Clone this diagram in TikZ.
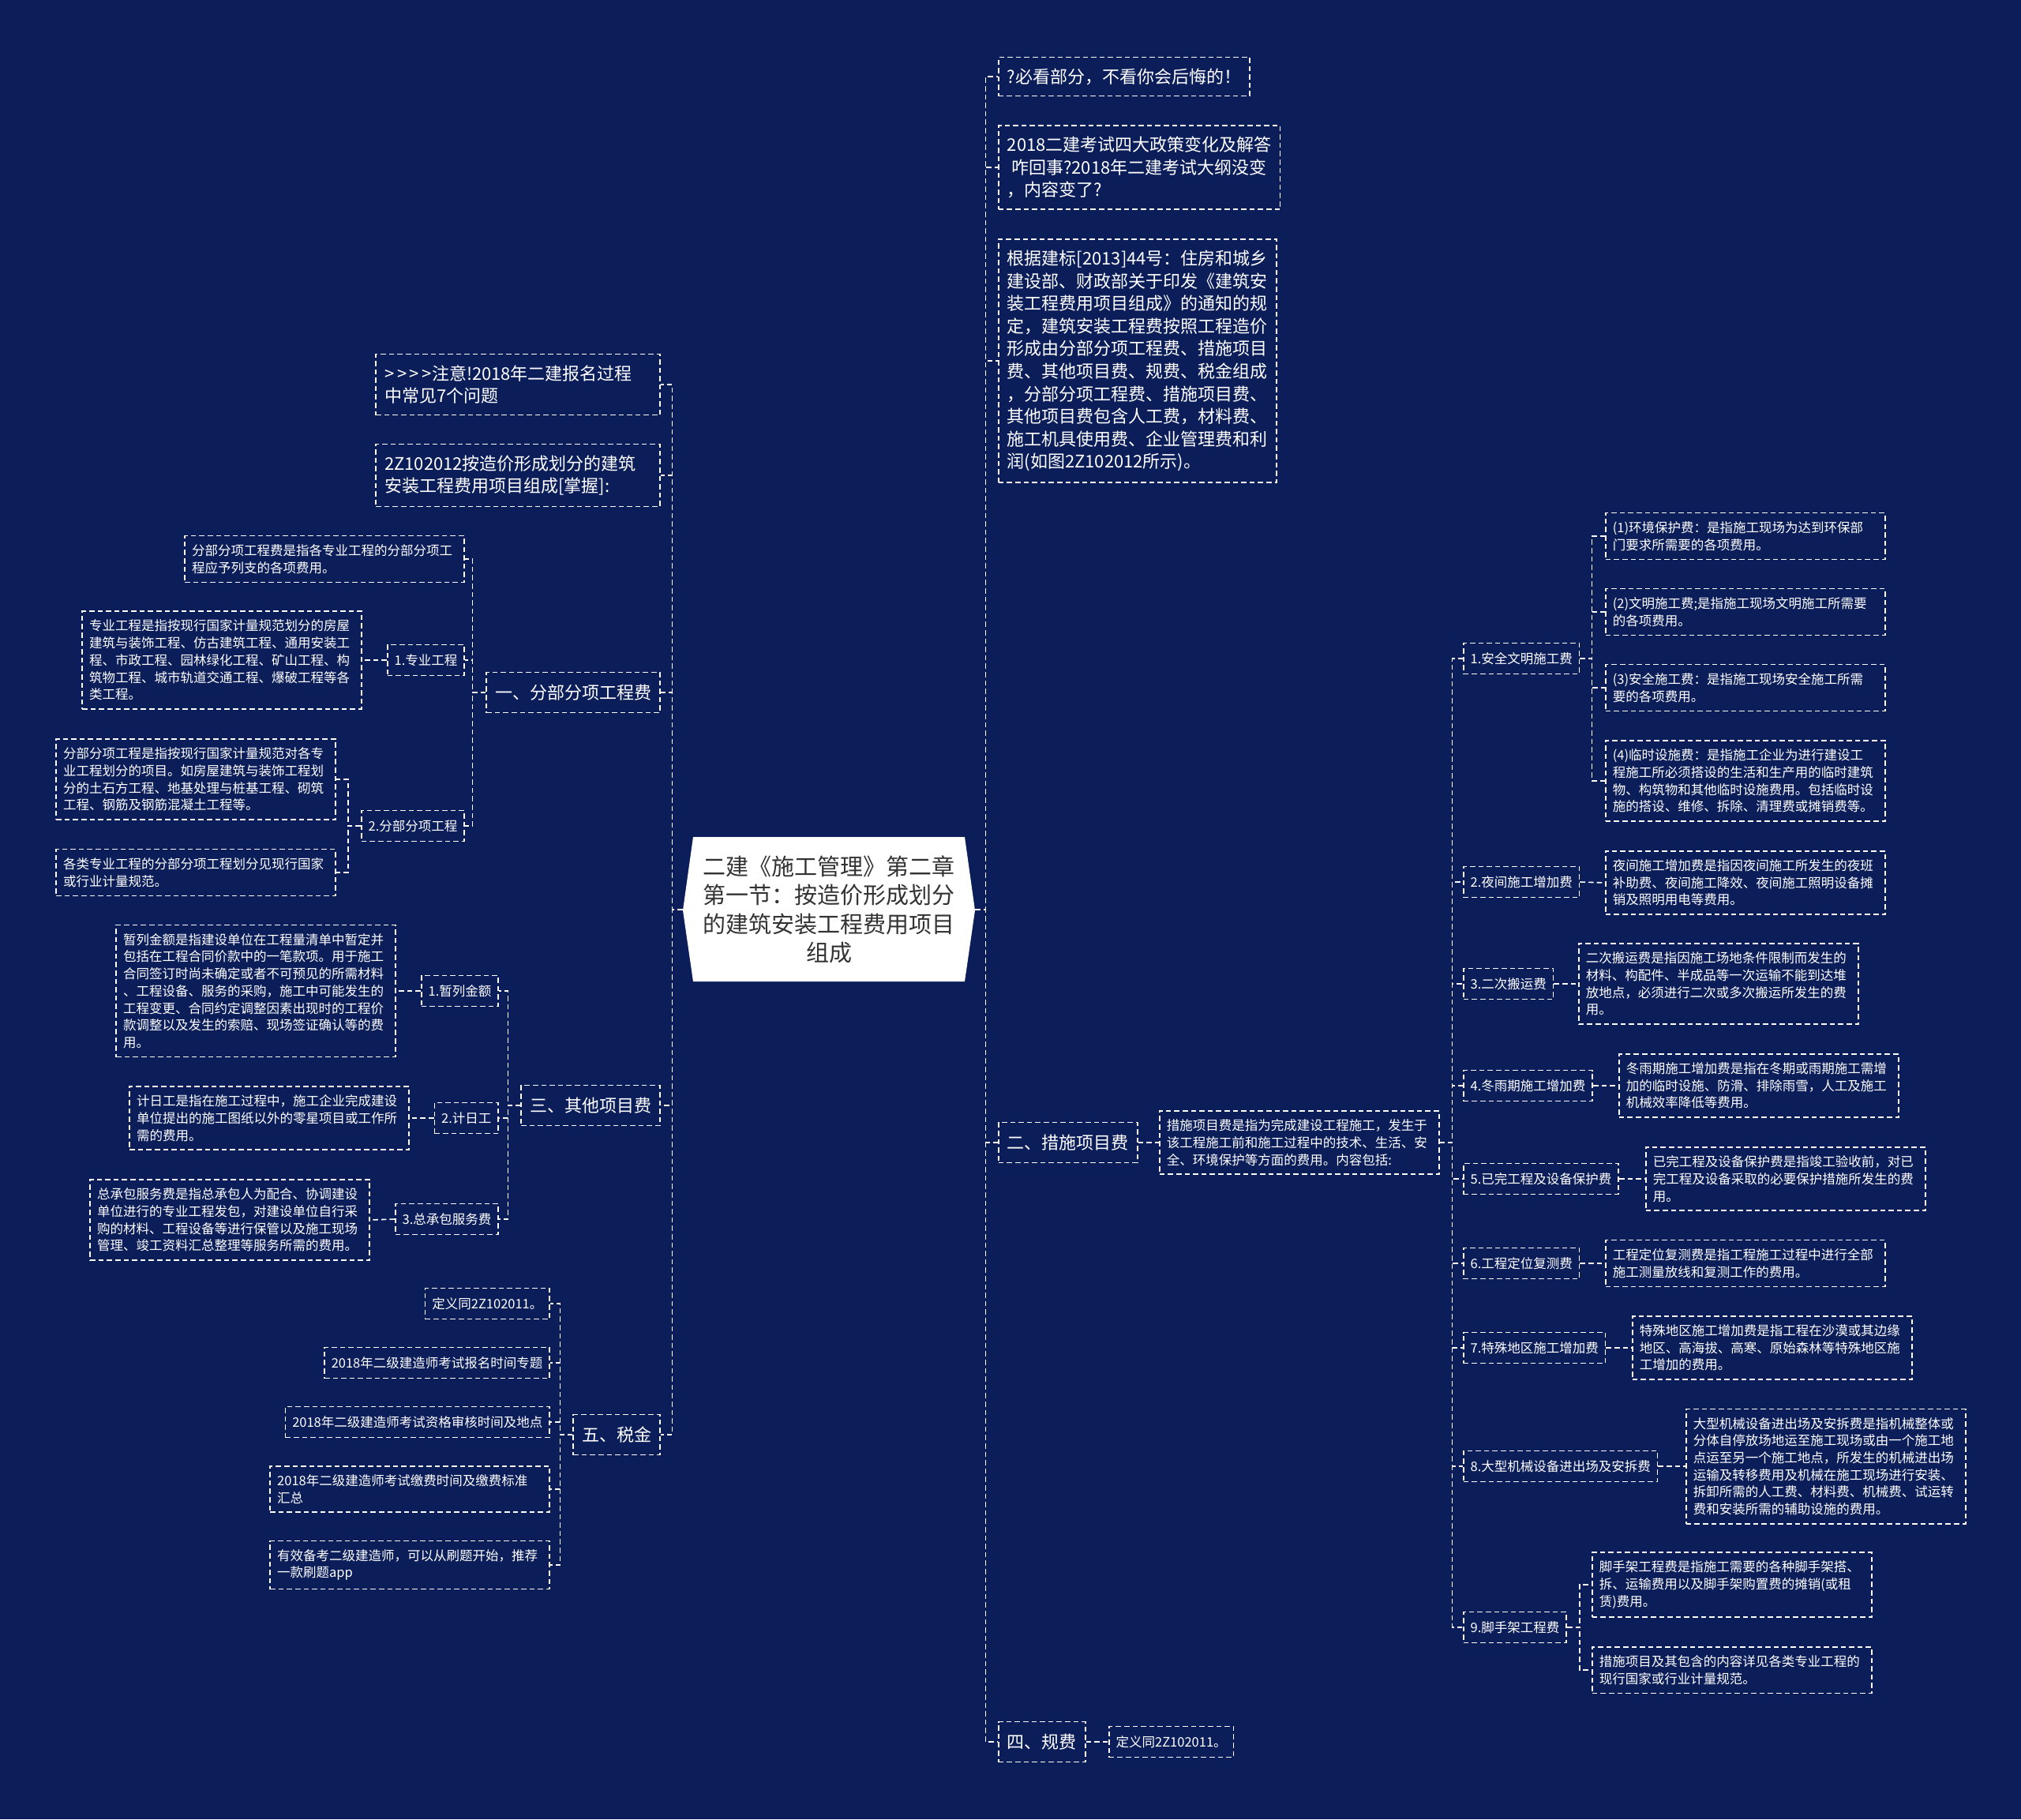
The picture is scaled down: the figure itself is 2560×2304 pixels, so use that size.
\documentclass[tikz,border=0pt]{standalone}
\usepackage{fontspec}
\newfontfamily\cjk{Noto Sans CJK SC}
\definecolor{navy}{RGB}{12,30,90}
\definecolor{rootgray}{RGB}{51,51,51}

\begin{document}
\begin{tikzpicture}[x=0.5pt,y=-0.5pt,
  link/.style={draw=white,line width=0.8pt,dash pattern=on 3.3pt off 2pt},
  dashbox/.style={draw=white,line width=0.8pt,dash pattern=on 3.3pt off 2pt,text=white},
  rootbox/.style={text=rootgray,align=center,minimum width=185pt,minimum height=91.5pt,font=\cjk\fontsize{14.5pt}{18.25pt}\selectfont},
  topicbox/.style={dashbox,minimum height=25.5pt,inner xsep=5.5pt,font=\cjk\fontsize{11pt}{13.25pt}\selectfont},
  notebox/.style={dashbox,align=left,inner xsep=5.5pt,inner ysep=7pt,font=\cjk\fontsize{11pt}{14.3pt}\selectfont},
  itembox/.style={dashbox,minimum height=19.5pt,inner xsep=4.4pt,font=\cjk\fontsize{8.25pt}{10.85pt}\selectfont},
  descbox/.style={dashbox,align=left,text width=168pt,inner xsep=4.5pt,inner ysep=5.4pt,font=\cjk\fontsize{8.25pt}{10.85pt}\selectfont}]

% Background
\fill[navy] (0,0) rectangle (2560,2304);

% Root
\fill[white] (865,1153) -- (878,1060) -- (1222,1060) -- (1235,1153) -- (1222,1243) -- (878,1243) -- cycle;
\node[rootbox] (root) at (1050,1152) {二建《施工管理》第二章\\第一节：按造价形成划分\\的建筑安装工程费用项目\\组成};

% Right branches
\node[notebox,anchor=west] (must) at (1264,97) {?必看部分，不看你会后悔的！};
\node[notebox,anchor=west] (policy) at (1264,212) {2018二建考试四大政策变化及解答\\\hspace*{0.25em}咋回事?2018年二建考试大纲没变\\，内容变了?};
\node[notebox,anchor=west] (basis) at (1264,457) {根据建标[2013]44号：住房和城乡\\建设部、财政部关于印发《建筑安\\装工程费用项目组成》的通知的规\\定，建筑安装工程费按照工程造价\\形成由分部分项工程费、措施项目\\费、其他项目费、规费、税金组成\\，分部分项工程费、措施项目费、\\其他项目费包含人工费，材料费、\\施工机具使用费、企业管理费和利\\润(如图2Z102012所示)。};
\node[topicbox,anchor=west] (cs) at (1264,1447) {二、措施项目费};
\node[descbox,anchor=west] (csdef) at (1468,1447) {措施项目费是指为完成建设工程施工，发生于\\该工程施工前和施工过程中的技术、生活、安\\全、环境保护等方面的费用。内容包括:};
\node[topicbox,anchor=west] (gf) at (1264,2206) {四、规费};
\node[itembox,anchor=west] (gfdef) at (1404,2206) {定义同2Z102011。};

% Measure items
\node[itembox,anchor=west] (cs1) at (1853,834) {1.安全文明施工费};
\node[descbox,anchor=west] (cs1a) at (2033,679) {(1)环境保护费：是指施工现场为达到环保部\\门要求所需要的各项费用。};
\node[descbox,anchor=west] (cs1b) at (2033,775) {(2)文明施工费;是指施工现场文明施工所需要\\的各项费用。};
\node[descbox,anchor=west] (cs1c) at (2033,871) {(3)安全施工费：是指施工现场安全施工所需\\要的各项费用。};
\node[descbox,anchor=west] (cs1d) at (2033,989) {(4)临时设施费：是指施工企业为进行建设工\\程施工所必须搭设的生活和生产用的临时建筑\\物、构筑物和其他临时设施费用。包括临时设\\施的搭设、维修、拆除、清理费或摊销费等。};
\node[itembox,anchor=west] (cs2) at (1853,1117) {2.夜间施工增加费};
\node[descbox,anchor=west] (cs2a) at (2033,1118) {夜间施工增加费是指因夜间施工所发生的夜班\\补助费、夜间施工降效、夜间施工照明设备摊\\销及照明用电等费用。};
\node[itembox,anchor=west] (cs3) at (1853,1246) {3.二次搬运费};
\node[descbox,anchor=west] (cs3a) at (1999,1246) {二次搬运费是指因施工场地条件限制而发生的\\材料、构配件、半成品等一次运输不能到达堆\\放地点，必须进行二次或多次搬运所发生的费\\用。};
\node[itembox,anchor=west] (cs4) at (1853,1375) {4.冬雨期施工增加费};
\node[descbox,anchor=west] (cs4a) at (2050,1375) {冬雨期施工增加费是指在冬期或雨期施工需增\\加的临时设施、防滑、排除雨雪，人工及施工\\机械效率降低等费用。};
\node[itembox,anchor=west] (cs5) at (1853,1493) {5.已完工程及设备保护费};
\node[descbox,anchor=west] (cs5a) at (2084,1493) {已完工程及设备保护费是指竣工验收前，对已\\完工程及设备采取的必要保护措施所发生的费\\用。};
\node[itembox,anchor=west] (cs6) at (1853,1600) {6.工程定位复测费};
\node[descbox,anchor=west] (cs6a) at (2033,1600) {工程定位复测费是指工程施工过程中进行全部\\施工测量放线和复测工作的费用。};
\node[itembox,anchor=west] (cs7) at (1853,1707) {7.特殊地区施工增加费};
\node[descbox,anchor=west] (cs7a) at (2067,1707) {特殊地区施工增加费是指工程在沙漠或其边缘\\地区、高海拔、高寒、原始森林等特殊地区施\\工增加的费用。};
\node[itembox,anchor=west] (cs8) at (1853,1857) {8.大型机械设备进出场及安拆费};
\node[descbox,anchor=west] (cs8a) at (2135,1857) {大型机械设备进出场及安拆费是指机械整体或\\分体自停放场地运至施工现场或由一个施工地\\点运至另一个施工地点，所发生的机械进出场\\运输及转移费用及机械在施工现场进行安装、\\拆卸所需的人工费、材料费、机械费、试运转\\费和安装所需的辅助设施的费用。};
\node[itembox,anchor=west] (cs9) at (1853,2061) {9.脚手架工程费};
\node[descbox,anchor=west] (cs9a) at (2016,2007) {脚手架工程费是指施工需要的各种脚手架搭、\\拆、运输费用以及脚手架购置费的摊销(或租\\赁)费用。};
\node[descbox,anchor=west] (cs9b) at (2016,2115) {措施项目及其包含的内容详见各类专业工程的\\现行国家或行业计量规范。};

% Left branches
\node[notebox,text width=169pt,anchor=east] (notice) at (837,487) {>\,>\,>\,>注意!2018年二建报名过程\\中常见7个问题};
\node[notebox,text width=169pt,anchor=east] (title) at (837,602) {2Z102012按造价形成划分的建筑\\安装工程费用项目组成[掌握]:};
\node[topicbox,anchor=east] (fb) at (837,877) {一、分部分项工程费};
\node[descbox,anchor=east] (fbdef) at (589,708) {分部分项工程费是指各专业工程的分部分项工\\程应予列支的各项费用。};
\node[itembox,anchor=east] (zy) at (589,836) {1.专业工程};
\node[descbox,anchor=east] (zydef) at (459,836) {专业工程是指按现行国家计量规范划分的房屋\\建筑与装饰工程、仿古建筑工程、通用安装工\\程、市政工程、园林绿化工程、矿山工程、构\\筑物工程、城市轨道交通工程、爆破工程等各\\类工程。};
\node[itembox,anchor=east] (fbx) at (589,1046) {2.分部分项工程};
\node[descbox,anchor=east] (fbxa) at (426,987) {分部分项工程是指按现行国家计量规范对各专\\业工程划分的项目。如房屋建筑与装饰工程划\\分的土石方工程、地基处理与桩基工程、砌筑\\工程、钢筋及钢筋混凝土工程等。};
\node[descbox,anchor=east] (fbxb) at (426,1105) {各类专业工程的分部分项工程划分见现行国家\\或行业计量规范。};
\node[topicbox,anchor=east] (qt) at (837,1400) {三、其他项目费};
\node[itembox,anchor=east] (zl) at (632,1255) {1.暂列金额};
\node[descbox,anchor=east] (zldef) at (502,1255) {暂列金额是指建设单位在工程量清单中暂定并\\包括在工程合同价款中的一笔款项。用于施工\\合同签订时尚未确定或者不可预见的所需材料\\、工程设备、服务的采购，施工中可能发生的\\工程变更、合同约定调整因素出现时的工程价\\款调整以及发生的索赔、现场签证确认等的费\\用。};
\node[itembox,anchor=east] (jr) at (632,1416) {2.计日工};
\node[descbox,anchor=east] (jrdef) at (519,1416) {计日工是指在施工过程中，施工企业完成建设\\单位提出的施工图纸以外的零星项目或工作所\\需的费用。};
\node[itembox,anchor=east] (zcb) at (632,1544) {3.总承包服务费};
\node[descbox,anchor=east] (zcbdef) at (469,1545) {总承包服务费是指总承包人为配合、协调建设\\单位进行的专业工程发包，对建设单位自行采\\购的材料、工程设备等进行保管以及施工现场\\管理、竣工资料汇总整理等服务所需的费用。};
\node[topicbox,anchor=east] (sj) at (837,1817) {五、税金};
\node[itembox,anchor=east] (sj1) at (697,1651) {定义同2Z102011。};
\node[itembox,anchor=east] (sj2) at (697,1726) {2018年二级建造师考试报名时间专题};
\node[itembox,anchor=east] (sj3) at (697,1801) {2018年二级建造师考试资格审核时间及地点};
\node[descbox,anchor=east] (sj4) at (697,1886) {2018年二级建造师考试缴费时间及缴费标准\\汇总};
\node[descbox,anchor=east] (sj5) at (697,1982) {有效备考二级建造师，可以从刷题开始，推荐\\一款刷题app};

% Connectors
\foreach \n in {must,policy,basis,cs,gf}
  \draw[link] (root.east) -- ++(13,0) |- (\n.west);
\foreach \n in {notice,title,fb,qt,sj}
  \draw[link] (root.west) -- ++(-13,0) |- (\n.east);
\foreach \n in {cs1,cs2,cs3,cs4,cs5,cs6,cs7,cs8,cs9}
  \draw[link] (csdef.east) -- ++(16,0) |- (\n.west);
\foreach \n in {cs1a,cs1b,cs1c,cs1d}
  \draw[link] (cs1.east) -- ++(15,0) |- (\n.west);
\foreach \n in {cs9a,cs9b}
  \draw[link] (cs9.east) -- ++(16,0) |- (\n.west);
\foreach \a/\b in {cs/csdef,cs2/cs2a,cs3/cs3a,cs4/cs4a,cs5/cs5a,cs6/cs6a,cs7/cs7a,cs8/cs8a,gf/gfdef}
  \draw[link] (\a.east) -- (\b.west);
\foreach \n in {fbdef,zy,fbx}
  \draw[link] (fb.west) -- ++(-17,0) |- (\n.east);
\foreach \n in {fbxa,fbxb}
  \draw[link] (fbx.west) -- ++(-16,0) |- (\n.east);
\foreach \n in {zl,jr,zcb}
  \draw[link] (qt.west) -- ++(-16,0) |- (\n.east);
\foreach \n in {sj1,sj2,sj3,sj4,sj5}
  \draw[link] (sj.west) -- ++(-16,0) |- (\n.east);
\foreach \a/\b in {zy/zydef,zl/zldef,jr/jrdef,zcb/zcbdef}
  \draw[link] (\a.west) -- (\b.east);

\end{tikzpicture}
\end{document}
